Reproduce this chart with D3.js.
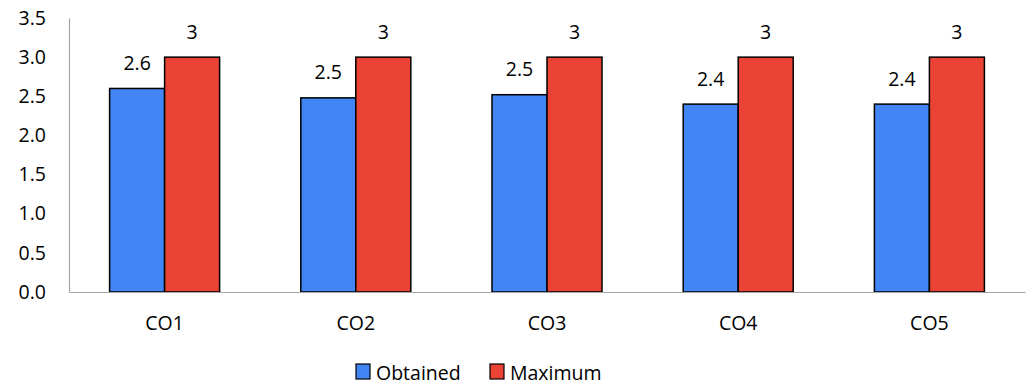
<!DOCTYPE html>
<html>
<head>
<meta charset="utf-8">
<script src="https://cdn.jsdelivr.net/npm/d3@7"></script>
<style>
    body { margin: 0; background: #fff; }
    text { font-family: "Open Sans", "Noto Sans", sans-serif; fill: #000; }
</style>
</head>
<body>
<script>
// chart data
const categories = ['CO1', 'CO2', 'CO3', 'CO4', 'CO5'];
const obtained = [2.6, 2.48, 2.52, 2.4, 2.4];
const maximum = [3, 3, 3, 3, 3];
const seriesNames = ['Obtained', 'Maximum'];
const yTicks = [0, 0.5, 1.0, 1.5, 2.0, 2.5, 3.0, 3.5];

const width = 1036;
const height = 385;
const marginTop = 18;
const marginRight = 11;
const marginBottom = 93;
const marginLeft = 69;
const fontSize = '19.5px';

const colors = ['#4285f4', '#ea4335'];

const svg = d3.select('body')
    .append('svg')
    .attr('width', width)
    .attr('height', height);

const x = d3.scaleBand()
    .domain(categories)
    .range([marginLeft, width - marginRight])
    .paddingInner(0)
    .paddingOuter(0);

const y = d3.scaleLinear()
    .domain([0, 3.5])
    .range([height - marginBottom, marginTop]);

const barWidth = 55;
const x1 = d3.scaleBand()
    .domain(seriesNames)
    .range([x.bandwidth() / 2 - barWidth, x.bandwidth() / 2 + barWidth]);

// y axis labels
const yAxis = d3.axisLeft(y).tickValues(yTicks).tickFormat(d3.format('.1f')).tickSize(0).tickPadding(23);
const gy = svg.append('g')
    .attr('transform', `translate(${marginLeft},0)`)
    .call(yAxis);
gy.select('.domain').attr('stroke', '#a6a6a6').attr('stroke-width', 1.2);
gy.selectAll('text').style('font-size', fontSize).attr('font-family', null);

// bars
const rows = categories.map((c, i) => ({ cat: c, values: [obtained[i], maximum[i]] }));

const groups = svg.selectAll('g.cat')
    .data(rows)
    .enter()
    .append('g')
    .attr('class', 'cat')
    .attr('transform', d => `translate(${x(d.cat)},0)`);

groups.selectAll('rect')
    .data(d => d.values.map((v, j) => ({ name: seriesNames[j], value: v, j })))
    .enter()
    .append('rect')
    .attr('x', d => x1(d.name))
    .attr('y', d => y(d.value))
    .attr('width', x1.bandwidth())
    .attr('height', d => y(0) - y(d.value))
    .attr('fill', d => colors[d.j])
    .attr('stroke', '#000')
    .attr('stroke-width', 1.5);

// value labels
groups.selectAll('text.val')
    .data(d => d.values.map((v, j) => ({ name: seriesNames[j], value: v, j })))
    .enter()
    .append('text')
    .attr('class', 'val')
    .attr('x', d => x1(d.name) + x1.bandwidth() / 2)
    .attr('y', d => y(d.value) - 18.5)
    .attr('text-anchor', 'middle')
    .style('font-size', fontSize)
    .text(d => d.j === 0 ? d3.format('.1f')(d.value) : d3.format('d')(d.value));

// x axis
const xAxis = d3.axisBottom(x).tickSize(0).tickPadding(24);
const gx = svg.append('g')
    .attr('transform', `translate(0,${y(0)})`)
    .call(xAxis);
gx.select('.domain').attr('stroke', '#a6a6a6').attr('stroke-width', 1.2);
gx.selectAll('text').style('font-size', fontSize).attr('font-family', null);

// legend
const legendItems = [
    { name: seriesNames[0], x: 356, color: colors[0] },
    { name: seriesNames[1], x: 490, color: colors[1] }
];
const legend = svg.selectAll('g.legend')
    .data(legendItems)
    .enter()
    .append('g')
    .attr('class', 'legend')
    .attr('transform', d => `translate(${d.x},364)`);

legend.append('rect')
    .attr('width', 14)
    .attr('height', 15)
    .attr('fill', d => d.color)
    .attr('stroke', '#000')
    .attr('stroke-width', 1.2);

legend.append('text')
    .attr('x', 20)
    .attr('y', 15.5)
    .style('font-size', fontSize)
    .text(d => d.name);
</script>
</body>
</html>
